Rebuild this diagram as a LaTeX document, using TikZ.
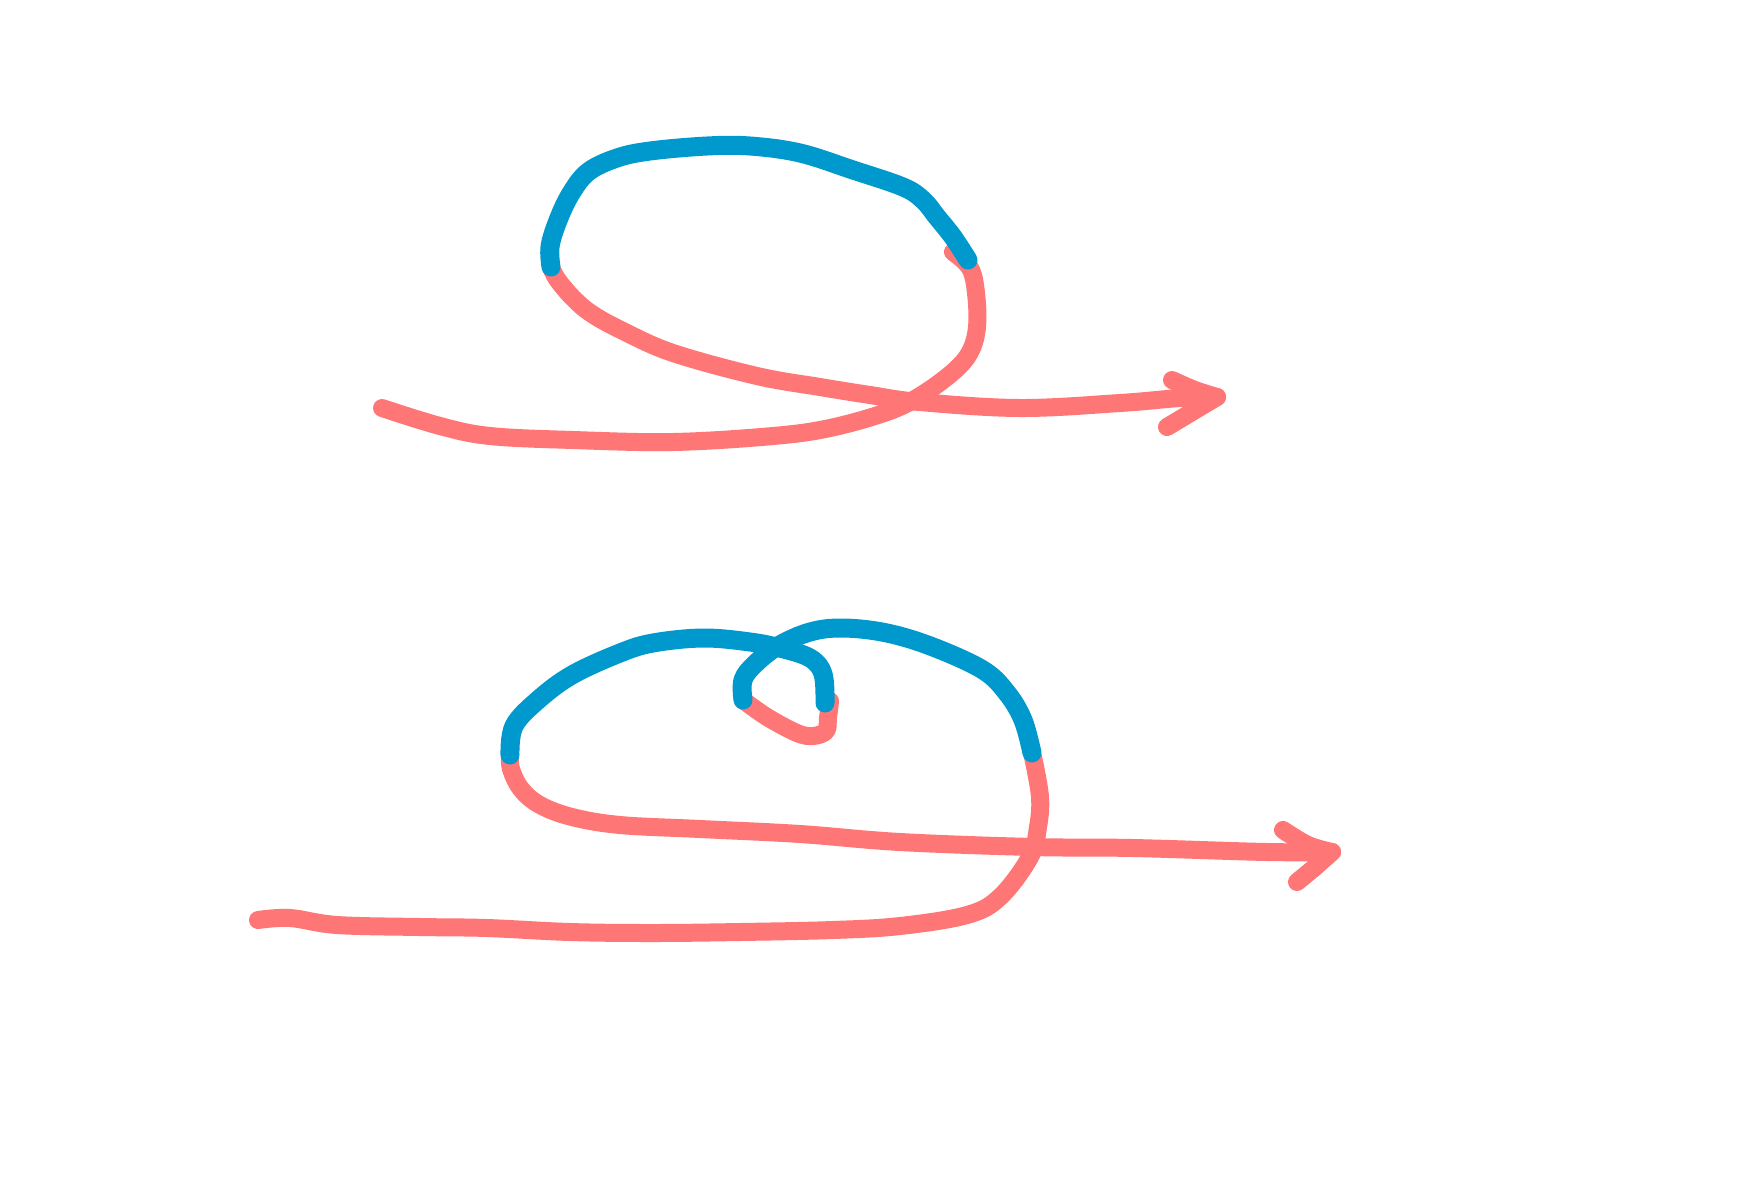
\documentclass[tikz,border=0pt]{standalone}
\definecolor{sketchblue}{RGB}{0,153,206}
\definecolor{sketchred}{RGB}{255,118,118}
\tikzset{
  redstroke/.style={draw=sketchred, line width=18pt, line cap=round, line join=round},
  bluestroke/.style={draw=sketchblue, line width=19pt, line cap=round, line join=round},
  sm/.style={smooth, tension=0.6}
}
\begin{document}
\begin{tikzpicture}[x=1pt,y=-1pt]
\useasboundingbox[fill=white] (0,0) rectangle (1748,1181);
% ---------- top figure ----------
\draw[redstroke] plot[sm] coordinates {(382,408) (440,426) (490,436) (573,440) (673,442) (773,436) (830,428) (887,412) (920,396) (953,372) (970,352) (977,327) (976,293) (970,268) (953,252)};
\draw[redstroke] plot[sm] coordinates {(551,267) (557,279) (573,298) (592,314) (623,331) (673,353) (757,376) (820,387) (870,395) (920,402) (1020,408) (1120,403) (1180,398) (1217,397)};
\draw[redstroke] plot[sm] coordinates {(1172,380) (1195,390) (1217,397)} -- (1192,412) -- (1167,427);
\draw[bluestroke] plot[sm] coordinates {(968,260) (953,237) (937,217) (923,200) (903,187) (853,170) (800,153) (750,146) (707,146) (650,151) (617,158) (588,172) (570,195) (557,223) (550,247) (551,267)};
% ---------- bottom figure ----------
\draw[redstroke] plot[sm] coordinates {(258,920) (290,918) (337,925) (420,927) (487,928) (570,932) (653,933) (740,932) (833,930) (900,926) (967,915) (1000,897) (1030,857) (1038,827) (1040,797) (1033,757)};
\draw[redstroke] plot[sm] coordinates {(510,755) (511,769) (521,789) (540,805) (572,817) (620,825) (700,829) (800,834) (900,842) (1033,847) (1133,848) (1267,852) (1332,852)};
\draw[redstroke] plot[sm] coordinates {(1283,830) (1308,845) (1332,852)} -- (1314,868) -- (1297,882);
\draw[redstroke] plot[sm] coordinates {(830,701) (828,718) (826,731) (813,736) (797,733) (767,717) (743,700)};
\draw[bluestroke] plot[sm] coordinates {(510,755) (514,726) (538,700) (572,675) (620,653) (653,643) (703,638) (750,642) (780,648) (810,658) (823,674) (825,703)};
\draw[bluestroke] plot[sm] coordinates {(743,700) (743,680) (755,664) (778,646) (810,632) (843,628) (887,633) (933,647) (983,670) (1007,693) (1023,720) (1032,753)};
\end{tikzpicture}
\end{document}
